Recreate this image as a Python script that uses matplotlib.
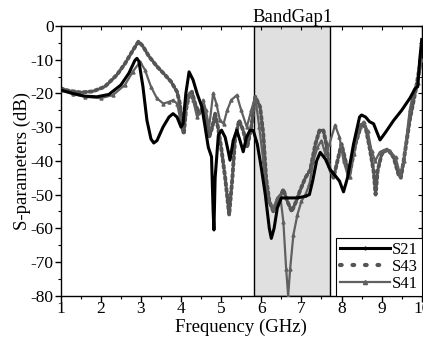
import matplotlib
matplotlib.use("Agg")
import matplotlib.pyplot as plt
from matplotlib.lines import Line2D
from matplotlib.ticker import MultipleLocator

plt.rcParams['font.family'] = ['Liberation Serif', 'DejaVu Serif']
plt.rcParams['axes.unicode_minus'] = False

# ---------------- data ----------------
s21_f = [1.0, 1.3, 1.6, 1.9, 2.2, 2.5, 2.7, 2.85, 2.9, 2.95, 3.05, 3.15, 3.25, 3.32, 3.4,
         3.55, 3.7, 3.8, 3.9, 4.0, 4.05, 4.12, 4.2, 4.3, 4.4, 4.52, 4.6, 4.68, 4.76, 4.8,
         4.82, 4.85, 4.93, 5.01, 5.1, 5.17, 5.22, 5.3, 5.39, 5.47, 5.55, 5.63, 5.72, 5.8,
         5.9, 6.0, 6.1, 6.2, 6.25, 6.32, 6.4, 6.5, 6.7, 6.9, 7.1, 7.2, 7.28, 7.38, 7.47,
         7.6, 7.72, 7.85, 7.95, 8.05, 8.15, 8.3, 8.45, 8.5, 8.6, 8.7, 8.8, 8.9, 8.96, 9.1,
         9.3, 9.5, 9.7, 9.84, 9.9, 9.95, 10.0]
s21_db = [-19.0, -20.0, -20.8, -21.0, -20.3, -17.5, -14.0, -10.2, -9.6, -10.5, -18.0, -28.0,
          -33.5, -34.7, -34.0, -30.0, -27.0, -26.0, -27.0, -30.0, -29.0, -20.0, -13.6, -16.0,
          -20.0, -24.0, -30.0, -36.0, -38.8, -55.0, -60.5, -45.0, -32.4, -30.9, -33.0, -36.8,
          -39.8, -34.0, -30.9, -34.0, -37.3, -33.0, -30.9, -31.0, -35.0, -42.0, -50.0, -60.0,
          -63.0, -60.0, -54.0, -51.0, -51.0, -51.0, -50.5, -50.0, -46.0, -40.0, -37.5, -39.5,
          -42.7, -44.5, -46.0, -49.2, -45.0, -35.0, -27.0, -26.4, -27.0, -28.4, -29.0, -32.0,
          -33.8, -31.5, -28.0, -25.0, -21.5, -18.5, -18.0, -10.0, -4.0]

s43_f = [1.0, 1.2, 1.5, 1.8, 2.1, 2.4, 2.6, 2.8, 2.94, 3.05, 3.2, 3.4, 3.6, 3.75, 3.9, 3.97,
         4.03, 4.07, 4.12, 4.2, 4.27, 4.35, 4.45, 4.55, 4.62, 4.7, 4.78, 4.85, 4.92, 5.0, 5.1,
         5.2, 5.28, 5.35, 5.45, 5.55, 5.65, 5.75, 5.85, 5.97, 6.05, 6.12, 6.2, 6.3, 6.42, 6.55,
         6.65, 6.76, 6.87, 6.97, 7.1, 7.22, 7.35, 7.45, 7.55, 7.62, 7.7, 7.8, 7.9, 8.0, 8.1,
         8.2, 8.35, 8.5, 8.6, 8.7, 8.8, 8.85, 8.9, 9.0, 9.15, 9.3, 9.42, 9.48, 9.55, 9.7, 9.85,
         9.95, 10.0]
s43_db = [-18.5, -19.2, -19.7, -19.4, -18.0, -14.5, -11.2, -7.2, -4.6, -6.0, -9.0, -12.0,
          -14.5, -16.5, -19.5, -23.0, -30.0, -32.0, -25.0, -20.5, -19.5, -23.0, -26.0, -24.0,
          -28.0, -33.0, -30.0, -26.0, -30.0, -36.0, -45.0, -56.0, -45.0, -33.0, -28.0, -31.0,
          -36.0, -30.0, -21.0, -24.0, -32.0, -45.0, -52.0, -55.0, -52.0, -48.5, -52.0, -55.0,
          -52.0, -48.7, -45.0, -42.7, -35.0, -31.0, -31.0, -35.0, -42.0, -45.0, -40.0, -35.0,
          -40.0, -44.0, -35.0, -29.0, -30.0, -36.0, -43.0, -50.0, -43.0, -38.0, -36.5, -39.0,
          -44.0, -45.0, -40.0, -28.0, -19.0, -12.0, -8.0]

s41_f = [1.0, 1.3, 1.6, 2.0, 2.3, 2.6, 2.8, 2.98, 3.1, 3.25, 3.4, 3.56, 3.7, 3.8, 3.9, 3.97,
         4.03, 4.1, 4.2, 4.3, 4.4, 4.5, 4.55, 4.62, 4.7, 4.8, 4.88, 4.97, 5.06, 5.15, 5.25,
         5.39, 5.5, 5.64, 5.75, 5.85, 5.95, 6.05, 6.12, 6.2, 6.3, 6.4, 6.47, 6.55, 6.62, 6.67,
         6.72, 6.8, 6.9, 7.0, 7.1, 7.2, 7.3, 7.4, 7.5, 7.6, 7.7, 7.84, 7.95, 8.05, 8.15, 8.21,
         8.3, 8.45, 8.55, 8.65, 8.75, 8.84, 8.95, 9.05, 9.2, 9.35, 9.46, 9.55, 9.7, 9.8, 9.9,
         10.0]
s41_db = [-19.0, -20.2, -21.0, -21.4, -20.5, -17.5, -13.5, -10.6, -13.0, -18.0, -21.5, -23.0,
          -22.5, -22.0, -23.0, -27.0, -30.0, -26.0, -20.0, -22.0, -27.0, -25.0, -22.0, -25.0,
          -30.0, -20.0, -23.0, -28.0, -29.0, -25.0, -22.0, -20.5, -25.0, -30.0, -25.0, -21.0,
          -30.0, -40.0, -48.0, -52.0, -54.0, -51.0, -50.0, -58.0, -72.0, -80.0, -72.0, -62.0,
          -56.0, -52.0, -50.0, -47.0, -40.0, -36.0, -34.0, -38.0, -35.0, -29.4, -33.0, -40.0,
          -44.0, -44.7, -38.0, -30.0, -28.4, -31.0, -37.0, -40.0, -37.5, -36.8, -37.0, -39.0,
          -44.0, -40.0, -25.0, -19.0, -17.0, -10.0]

band_lo, band_hi = 5.83, 7.72
band_label = "BandGap1"
x_ticks = [1, 2, 3, 4, 5, 6, 7, 8, 9, 10]
y_ticks = [0, -10, -20, -30, -40, -50, -60, -70, -80]

# ---------------- figure ----------------
fig = plt.figure(figsize=(4.23, 3.44), dpi=100)
ax = fig.add_axes([0.1435, 0.1404, 0.8535, 0.784])

ax.axvspan(band_lo, band_hi, facecolor='#e0e0e0', edgecolor='black', lw=1.0, zorder=0)

ax.plot(s43_f, s43_db, color='#555555', lw=2.8, linestyle=(0, (0.7, 0.8)),
        solid_capstyle='round', dash_capstyle='round', zorder=2)
ax.plot(s41_f, s41_db, color='#606060', lw=1.6, marker='^', ms=2.2, zorder=3)
ax.plot(s21_f, s21_db, color='black', lw=2.2, zorder=4)

ax.set_xlim(1, 10)
ax.set_ylim(-80, 0)
ax.set_xticks(x_ticks)
ax.set_yticks(y_ticks)
ax.xaxis.set_minor_locator(MultipleLocator(0.5))
ax.yaxis.set_minor_locator(MultipleLocator(5))
ax.tick_params(axis='both', which='both', labelsize=12.5, pad=1)
ax.tick_params(axis='x', which='both', pad=0)
ax.tick_params(axis='both', which='major', length=4, width=1, direction='out')
ax.tick_params(axis='both', which='minor', length=2.5, width=0.8, direction='out')
for side in ax.spines.values():
    side.set_linewidth(1.0)

ax2 = ax.secondary_xaxis('top')
ax2.set_xticks(x_ticks)
ax2.xaxis.set_minor_locator(MultipleLocator(0.5))
ax2.tick_params(which='major', direction='in', length=3, labeltop=False)
ax2.tick_params(which='minor', direction='in', length=2)
ax3 = ax.secondary_yaxis('right')
ax3.set_yticks(y_ticks)
ax3.yaxis.set_minor_locator(MultipleLocator(5))
ax3.tick_params(which='major', direction='in', length=3, labelright=False)
ax3.tick_params(which='minor', direction='in', length=2)

ax.set_xlabel("Frequency (GHz)", fontsize=13.5, labelpad=1)
ax.set_ylabel("S-parameters (dB)", fontsize=13.5, labelpad=0)

ax.text((band_lo + band_hi) / 2, 1.0, band_label, transform=ax.get_xaxis_transform(),
        ha='center', va='bottom', fontsize=13.5)

handles = [
    Line2D([], [], color='black', lw=2.2, marker='|', ms=3),
    Line2D([], [], color='#555555', lw=3.0, linestyle=(0, (0.4, 2.6)), dash_capstyle='round'),
    Line2D([], [], color='#606060', lw=1.6, marker='^', ms=3),
]
leg = ax.legend(handles, ["S21", "S43", "S41"], loc='lower right', fontsize=12,
                frameon=True, fancybox=False, edgecolor='black', framealpha=1,
                handlelength=3.0, handletextpad=0.1, labelspacing=0.05,
                borderpad=0.25, borderaxespad=0.0)
leg.get_frame().set_linewidth(0.8)

fig.savefig("out.png", dpi=100)
